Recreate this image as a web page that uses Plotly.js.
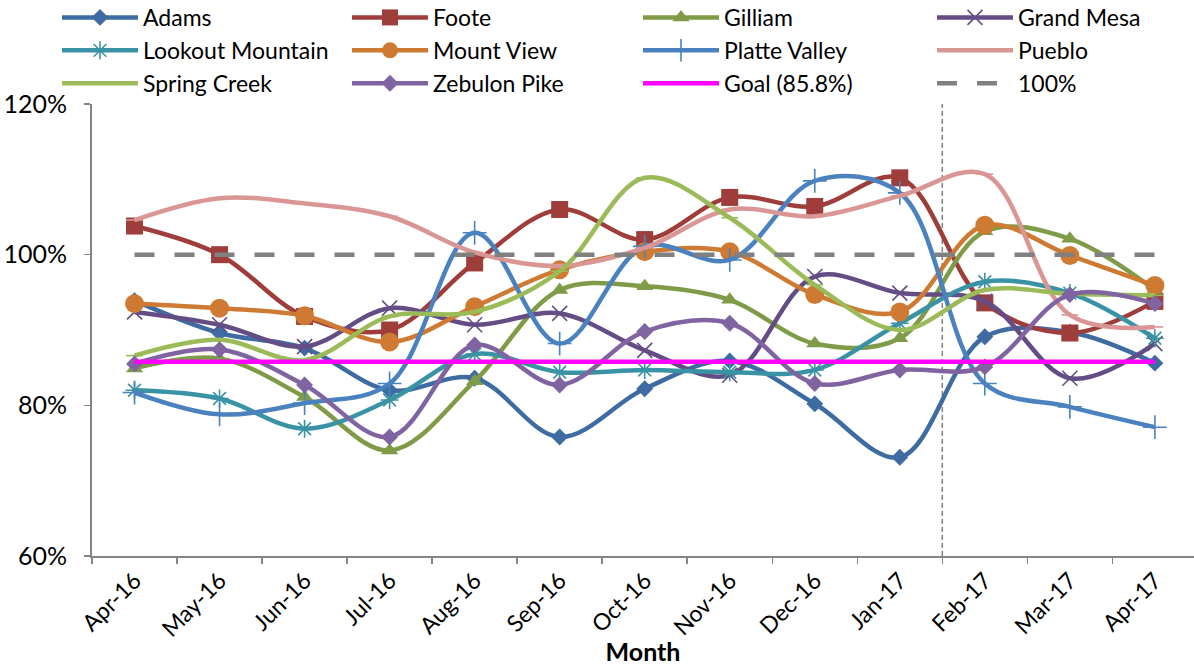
<!DOCTYPE html>
<html>
<head>
<meta charset="utf-8">
<script src="https://cdn.plot.ly/plotly-3.0.1.min.js"></script>
<style>
  html, body { margin: 0; padding: 0; background: #fff; }
  #chart { width: 1194px; height: 666px; }
</style>
</head>
<body>
<div id="chart"></div>
<script>
// Monthly performance by location, Apr-16 to Apr-17 (percent)
const months = ['Apr-16', 'May-16', 'Jun-16', 'Jul-16', 'Aug-16', 'Sep-16', 'Oct-16',
                'Nov-16', 'Dec-16', 'Jan-17', 'Feb-17', 'Mar-17', 'Apr-17'];

const adams          = [93.9, 89.6, 87.6, 82.0, 83.6, 75.8, 82.2, 85.9, 80.2, 73.1, 89.1, 89.7, 85.6];
const foote          = [103.8, 100.0, 91.8, 90.0, 98.9, 106.0, 102.0, 107.6, 106.4, 110.2, 93.6, 89.6, 93.8];
const gilliam        = [84.9, 86.2, 81.1, 74.0, 83.2, 95.3, 95.8, 94.0, 88.2, 88.9, 103.1, 102.1, 95.3];
const grandMesa      = [92.4, 90.7, 87.8, 92.9, 90.7, 92.2, 87.3, 84.0, 97.1, 94.9, 93.8, 83.6, 88.2];
const lookoutMtn     = [82.0, 80.9, 76.9, 80.7, 86.8, 84.4, 84.7, 84.4, 84.7, 90.9, 96.4, 94.9, 88.9];
const mountView      = [93.5, 92.9, 91.9, 88.4, 93.1, 98.0, 100.4, 100.4, 94.7, 92.4, 103.9, 99.9, 95.9];
const platteValley   = [81.7, 78.8, 80.3, 82.9, 102.9, 88.2, 101.1, 99.3, 109.8, 108.2, 82.9, 79.8, 77.1];
const pueblo         = [104.6, 107.5, 106.8, 105.1, 100.3, 98.5, 100.9, 106.0, 105.1, 107.8, 110.7, 92.0, 90.4];
const springCreek    = [86.6, 88.7, 86.0, 91.8, 92.4, 97.8, 110.2, 104.9, 96.0, 90.0, 95.3, 94.8, 94.6];
const zebulonPike    = [85.5, 87.4, 82.7, 75.8, 88.0, 82.7, 89.8, 90.9, 82.9, 84.7, 85.1, 94.7, 93.5];
const goal           = [85.8, 85.8, 85.8, 85.8, 85.8, 85.8, 85.8, 85.8, 85.8, 85.8, 85.8, 85.8, 85.8];
const hundred        = [100, 100, 100, 100, 100, 100, 100, 100, 100, 100, 100, 100, 100];

const yTicks = [60, 80, 100, 120];
const yTickText = ['60%', '80%', '100%', '120%'];

const FONT = 'Lato, "Noto Sans", sans-serif';

function series(name, values, color, symbol, size, open, legendId) {
  const marker = { symbol: symbol, size: size, color: color };
  if (open) marker.line = { color: color, width: 1.6 };
  return {
    type: 'scatter', mode: 'lines+markers',
    name: name, x: months, y: values, legend: legendId,
    line: { color: color, width: 4.5, shape: 'spline', smoothing: 1 },
    marker: marker,
    hoverinfo: 'x+y+name'
  };
}

// legend columns: legend, legend2, legend3, legend4 (three rows each)
const traces = [
  series('Adams', adams, '#3E6BA2', 'diamond', 13, false, 'legend'),
  series('Foote', foote, '#9E3D3A', 'square', 17, false, 'legend2'),
  series('Gilliam', gilliam, '#7F9B47', 'triangle-up', 15, false, 'legend3'),
  series('Grand Mesa', grandMesa, '#644D84', 'x-thin-open', 15, true, 'legend4'),
  series('Lookout Mountain', lookoutMtn, '#3A93A5', 'asterisk-open', 15, true, 'legend'),
  series('Mount View', mountView, '#CF7A33', 'circle', 19, false, 'legend2'),
  series('Platte Valley', platteValley, '#4A81BF', 'cross-thin-open', 17, true, 'legend3'),
  series('Pueblo', pueblo, '#DA9694', 'line-ew-open', 12, true, 'legend4'),
  series('Spring Creek', springCreek, '#9BBB59', 'line-ew-open', 12, true, 'legend'),
  series('Zebulon Pike', zebulonPike, '#8063A1', 'diamond', 13, false, 'legend2'),
  {
    type: 'scatter', mode: 'lines', name: 'Goal (85.8%)', x: months, y: goal,
    legend: 'legend3',
    line: { color: '#FF00FF', width: 4.5 }
  },
  {
    type: 'scatter', mode: 'lines', name: '100%', x: months, y: hundred,
    legend: 'legend4',
    line: { color: '#808080', width: 4.5, dash: '20px,20px' }
  }
];

function legendColumn(px) {
  return {
    orientation: 'v', xref: 'container', yref: 'paper',
    x: px / 1194, y: 1.2390, xanchor: 'left', yanchor: 'top',
    itemwidth: 76,
    font: { family: FONT, size: 23, color: '#000' },
    bgcolor: 'rgba(0,0,0,0)'
  };
}

const layout = {
  width: 1194, height: 666,
  paper_bgcolor: '#ffffff', plot_bgcolor: '#ffffff',
  font: { family: FONT, size: 22, color: '#000' },
  margin: { l: 92, r: 0, t: 104, b: 110, autoexpand: false },
  showlegend: true,
  legend: legendColumn(57),
  legend2: legendColumn(347),
  legend3: legendColumn(638),
  legend4: legendColumn(932),
  xaxis: {
    type: 'category',
    range: [-0.5, 12.46],
    tickson: 'boundaries',
    ticks: 'outside', ticklen: 6, tickcolor: '#868686', tickwidth: 1.5,
    showline: true, linecolor: '#868686', linewidth: 2,
    showgrid: false, zeroline: false,
    tickangle: -45,
    tickfont: { family: FONT, size: 23, color: '#000' },
    title: { text: '<b>Month</b>', font: { family: FONT, size: 25, color: '#000' }, standoff: 0 }
  },
  yaxis: {
    range: [60, 120],
    tickvals: yTicks, ticktext: yTickText,
    ticks: 'outside', ticklen: 6, tickcolor: '#868686', tickwidth: 1.5,
    ticklabelstandoff: 12,
    showline: true, linecolor: '#868686', linewidth: 2,
    showgrid: false, zeroline: false,
    tickfont: { family: FONT, size: 25, color: '#000' }
  },
  shapes: [
    {
      // divider between Jan-17 and Feb-17
      type: 'line', xref: 'x', yref: 'paper',
      x0: 9.5, x1: 9.5, y0: 0, y1: 1,
      line: { color: '#808080', width: 1.5, dash: '5px,3px' },
      layer: 'below'
    }
  ]
};

Plotly.newPlot('chart', traces, layout, { displayModeBar: false, staticPlot: true });
</script>
</body>
</html>
